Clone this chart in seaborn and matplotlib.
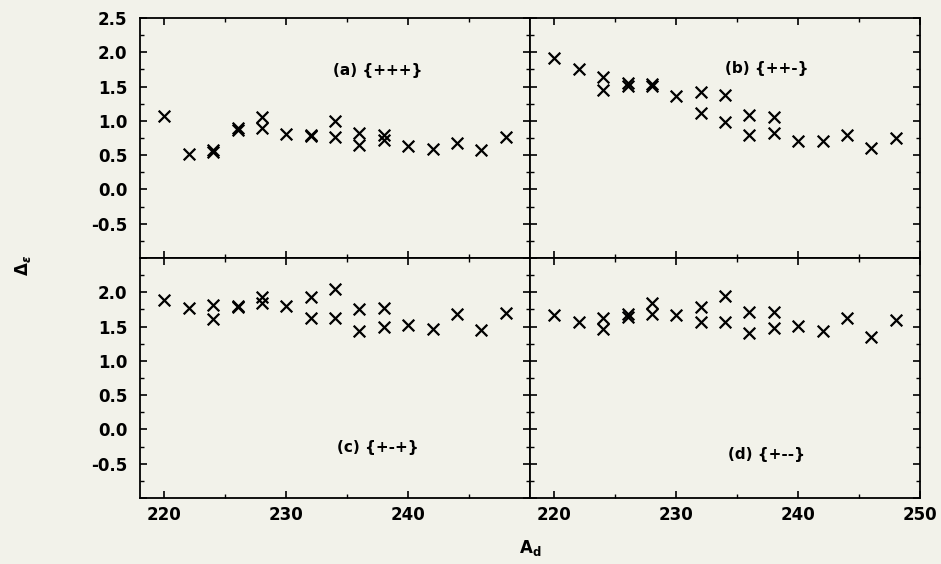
"""Four-panel scatter of Delta vs A_d for the sign combinations."""

import matplotlib

matplotlib.use("Agg")
import matplotlib.pyplot as plt
import pandas as pd
import seaborn as sns
from matplotlib.ticker import MultipleLocator

# A_d values (repeated where two points share a mass number)
a_d = [220, 222, 224, 224, 226, 226, 228, 228, 230, 232, 232,
       234, 234, 236, 236, 238, 238, 240, 242, 244, 246, 248]

delta_a = [1.07, 0.52, 0.55, 0.57, 0.87, 0.90, 1.06, 0.90, 0.81, 0.78, 0.80,
           1.00, 0.76, 0.83, 0.65, 0.80, 0.72, 0.64, 0.59, 0.67, 0.57, 0.77]
delta_b = [1.92, 1.75, 1.64, 1.45, 1.55, 1.51, 1.54, 1.51, 1.36, 1.42, 1.12,
           1.37, 0.98, 1.08, 0.80, 1.06, 0.83, 0.70, 0.70, 0.80, 0.60, 0.75]
delta_c = [1.89, 1.77, 1.81, 1.61, 1.78, 1.80, 1.93, 1.84, 1.80, 1.93, 1.62,
           2.05, 1.62, 1.76, 1.44, 1.77, 1.50, 1.53, 1.47, 1.68, 1.45, 1.70]
delta_d = [1.67, 1.57, 1.63, 1.47, 1.64, 1.68, 1.84, 1.69, 1.67, 1.78, 1.56,
           1.95, 1.56, 1.71, 1.41, 1.71, 1.48, 1.51, 1.43, 1.62, 1.35, 1.60]

panel_labels = ["(a) {+++}", "(b) {++-}", "(c) {+-+}", "(d) {+--}"]

y_ticks = [2.5, 2.0, 1.5, 1.0, 0.5, 0.0, -0.5, -1.0]
x_ticks = [220, 230, 240, 250]

sns.set_theme(style="ticks")
plt.rcParams["font.family"] = ["DejaVu Sans"]
plt.rcParams["font.weight"] = "bold"
plt.rcParams["text.color"] = "black"

bg = "#f2f2ea"
fig, axes = plt.subplots(2, 2, figsize=(9.41, 5.64), dpi=100)
fig.patch.set_facecolor(bg)
fig.subplots_adjust(left=0.1488, right=0.9777, top=0.9681, bottom=0.1170,
                    wspace=0, hspace=0)

series = [delta_a, delta_b, delta_c, delta_d]
label_pos = [(237.5, 1.74), (237.4, 1.77), (237.5, -0.27), (237.4, -0.37)]

for i, ax in enumerate(axes.flat):
    row, col = divmod(i, 2)
    df = pd.DataFrame({"A_d": a_d, "delta": series[i]})
    sns.scatterplot(data=df, x="A_d", y="delta", marker="x", color="black",
                    s=70, linewidth=1.6, ax=ax, legend=False)
    ax.set_facecolor(bg)
    ax.set_xlim(218, 250)
    ax.set_ylim(-1.0, 2.5)
    ax.set_xticks(x_ticks)
    ax.set_yticks(y_ticks)
    ax.xaxis.set_minor_locator(MultipleLocator(5))
    ax.yaxis.set_minor_locator(MultipleLocator(0.25))
    ax.tick_params(which="both", direction="in", top=True, right=True,
                   colors="black", labelsize=12)
    ax.tick_params(which="major", length=5, width=1.2)
    ax.tick_params(which="minor", length=3, width=1.0)
    ax.tick_params(axis="y", pad=9)
    ax.tick_params(axis="x", pad=6)

    # tick labels only where the reference shows them
    if col == 0:
        ylabs = [f"{v:.1f}" for v in y_ticks]
        ylabs[-1] = ""
        if row == 1:
            ylabs[0] = ""
        ax.set_yticklabels(ylabs)
    else:
        ax.tick_params(labelleft=False)
    if row == 1:
        xlabs = [str(v) for v in x_ticks]
        if col == 0:
            xlabs[-1] = ""
        ax.set_xticklabels(xlabs)
    else:
        ax.tick_params(labelbottom=False)

    for sp in ax.spines.values():
        sp.set_color("black")
        sp.set_linewidth(1.3)
    ax.set_xlabel("")
    ax.set_ylabel("")
    lx, ly = label_pos[i]
    ax.text(lx, ly, panel_labels[i], ha="center", va="center",
            fontsize=11, fontweight="bold", color="black")

fig.text(0.5633, 0.028, r"A$_{\mathregular{d}}$", ha="center", va="center",
         fontsize=12, fontweight="bold", color="black")
fig.text(0.024, 0.53, r"$\Delta_\epsilon$", ha="center", va="center",
         rotation=90, fontsize=12, color="black")

fig.savefig("out.png", dpi=100, facecolor=bg)
